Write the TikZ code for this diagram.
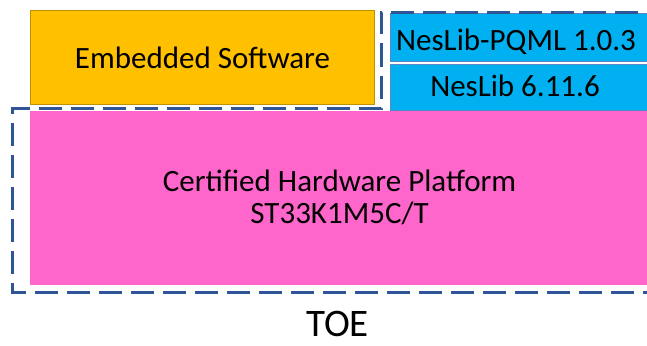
\documentclass[tikz,border=0pt]{standalone}
\usepackage{fontspec}
\setmainfont{Carlito}
\definecolor{esfill}{HTML}{FFC000}
\definecolor{esline}{HTML}{BF9000}
\definecolor{nlfill}{HTML}{00B0F0}
\definecolor{nlline}{HTML}{5B86C8}
\definecolor{hwfill}{HTML}{FF66CC}
\definecolor{toeline}{HTML}{2F5597}
\begin{document}
\begin{tikzpicture}[x=1pt,y=-1pt,
  boxshape/.style={rectangle, inner sep=0pt, outer sep=0pt, anchor=north west},
  lbl/.style={anchor=base, inner sep=0pt, font=\fontsize{31}{32}\selectfont},
  toedash/.style={draw=toeline, line width=3pt, dash pattern=on 23pt off 9pt}]
\useasboundingbox (0,0) rectangle (647,345);
\clip (0,0) rectangle (647,345);
% boxes
\node[boxshape, fill=esfill, draw=esline, line width=1pt, minimum width=344pt, minimum height=93pt] (es) at (30,11) {};
\node[boxshape, fill=nlfill, draw=nlline, line width=1pt, minimum width=280pt, minimum height=47pt] (pqml) at (390,14) {};
\node[boxshape, fill=nlfill, draw=nlline, line width=1pt, minimum width=280pt, minimum height=46pt] (nl) at (390,64) {};
\node[boxshape, fill=hwfill, minimum width=640pt, minimum height=174pt] (hw) at (30,111) {};
% TOE dashed outline
\coordinate (t1) at (381,12.5);
\coordinate (t2) at (381,108);
\coordinate (t3) at (12.5,108);
\coordinate (t4) at (12.5,292.5);
\coordinate (t5) at (670,292.5);
\coordinate (t6) at (670,12.5);
\draw[toedash] (t6) -- (t1) -- (t2) -- (t3) -- (t4) -- (t5);
% labels
\node[lbl] (esl) at (202.5,68) {Embedded Software};
\node[lbl] (pqmll) at (516,50) {NesLib-PQML 1.0.3};
\node[lbl] (nll) at (515,96) {NesLib 6.11.6};
\node[lbl] (hwl1) at (339.5,191) {Certified Hardware Platform};
\node[lbl] (hwl2) at (339.5,223) {ST33K1M5C/T};
\node[anchor=base, inner sep=0pt, font=\fontsize{39}{39}\selectfont] (toe) at (337.5,336) {TOE};
\end{tikzpicture}
\end{document}
